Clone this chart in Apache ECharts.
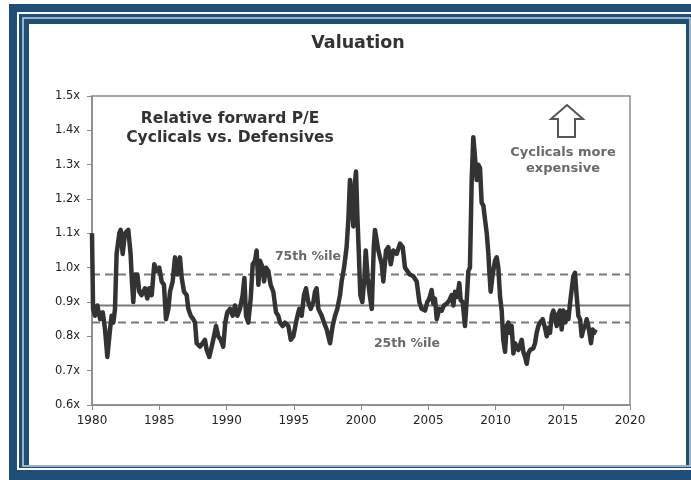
<!DOCTYPE html>
<html>
<head>
<meta charset="utf-8">
<script src="https://cdn.jsdelivr.net/npm/echarts@6/dist/echarts.min.js"></script>
<style>
html,body{margin:0;padding:0;background:#fff;}
#chart{width:691px;height:480px;}
</style>
</head>
<body>
<div id="chart"></div>
<script>
// Data
const years = [1980.0,1980.08,1980.22,1980.4,1980.6,1980.8,1980.97,1981.14,1981.34,1981.46,1981.59,1981.71,1981.83,1982.03,1982.13,1982.28,1982.45,1982.7,1982.87,1982.97,1983.07,1983.2,1983.37,1983.52,1983.69,1983.94,1984.11,1984.26,1984.44,1984.63,1984.81,1985.0,1985.18,1985.35,1985.5,1985.68,1985.8,1986.0,1986.17,1986.34,1986.54,1986.67,1986.84,1987.04,1987.16,1987.34,1987.53,1987.66,1987.78,1988.03,1988.23,1988.4,1988.53,1988.72,1988.9,1989.07,1989.22,1989.39,1989.57,1989.76,1989.91,1990.06,1990.26,1990.46,1990.63,1990.81,1991.0,1991.2,1991.33,1991.45,1991.62,1991.8,1991.95,1992.12,1992.24,1992.37,1992.49,1992.69,1992.79,1992.94,1993.11,1993.28,1993.48,1993.68,1993.85,1993.98,1994.18,1994.35,1994.6,1994.78,1994.97,1995.22,1995.41,1995.59,1995.76,1995.91,1996.08,1996.26,1996.46,1996.58,1996.7,1996.83,1997.08,1997.25,1997.45,1997.57,1997.7,1997.89,1998.07,1998.24,1998.44,1998.56,1998.74,1998.93,1999.06,1999.18,1999.31,1999.43,1999.55,1999.63,1999.73,1999.83,1999.95,2000.1,2000.25,2000.35,2000.5,2000.65,2000.8,2000.95,2001.04,2001.29,2001.54,2001.66,2001.86,2002.03,2002.21,2002.4,2002.65,2002.9,2003.1,2003.27,2003.45,2003.64,2003.89,2004.14,2004.34,2004.51,2004.76,2004.93,2005.08,2005.25,2005.38,2005.5,2005.63,2005.82,2006.0,2006.17,2006.37,2006.57,2006.74,2006.87,2006.99,2007.16,2007.31,2007.41,2007.56,2007.73,2007.86,2007.98,2008.1,2008.23,2008.35,2008.48,2008.6,2008.72,2008.85,2008.97,2009.1,2009.22,2009.35,2009.47,2009.54,2009.64,2009.79,2009.96,2010.09,2010.21,2010.34,2010.46,2010.58,2010.71,2010.83,2010.96,2011.08,2011.2,2011.33,2011.45,2011.58,2011.7,2011.82,2011.95,2012.07,2012.2,2012.32,2012.44,2012.57,2012.81,2012.94,2013.06,2013.19,2013.31,2013.51,2013.68,2013.81,2013.93,2014.05,2014.18,2014.3,2014.43,2014.55,2014.67,2014.8,2014.92,2015.04,2015.17,2015.29,2015.42,2015.54,2015.66,2015.79,2015.91,2016.04,2016.16,2016.29,2016.41,2016.53,2016.66,2016.78,2016.9,2017.03,2017.1,2017.23,2017.33,2017.45];
const relPE = [1.10,0.88,0.86,0.89,0.85,0.87,0.82,0.74,0.82,0.86,0.84,0.88,1.04,1.10,1.11,1.04,1.10,1.11,1.04,0.96,0.90,0.98,0.98,0.93,0.92,0.94,0.91,0.94,0.92,1.01,0.99,1.00,0.96,0.95,0.85,0.88,0.93,0.96,1.03,0.98,1.03,0.97,0.93,0.92,0.88,0.86,0.85,0.84,0.78,0.77,0.78,0.79,0.76,0.74,0.77,0.80,0.83,0.80,0.79,0.77,0.84,0.87,0.88,0.86,0.89,0.86,0.88,0.92,0.97,0.86,0.84,0.91,1.01,1.02,1.05,0.95,1.02,1.00,0.96,1.00,0.99,0.95,0.93,0.87,0.86,0.84,0.83,0.84,0.83,0.79,0.80,0.85,0.88,0.86,0.92,0.94,0.90,0.88,0.90,0.93,0.94,0.88,0.86,0.84,0.82,0.80,0.78,0.83,0.86,0.88,0.92,0.96,1.00,1.06,1.14,1.255,1.20,1.12,1.25,1.28,1.15,1.05,0.92,0.90,0.97,1.05,0.97,0.92,0.88,1.06,1.11,1.05,1.01,0.96,1.05,1.06,1.01,1.05,1.04,1.07,1.06,1.00,0.99,0.98,0.975,0.96,0.90,0.88,0.875,0.90,0.91,0.935,0.895,0.91,0.85,0.88,0.875,0.89,0.895,0.905,0.92,0.89,0.93,0.915,0.955,0.905,0.90,0.83,0.905,0.99,1.00,1.255,1.38,1.32,1.255,1.30,1.29,1.19,1.18,1.14,1.10,1.04,0.99,0.93,0.98,1.02,1.03,1.00,0.915,0.875,0.79,0.755,0.83,0.84,0.81,0.83,0.75,0.78,0.77,0.76,0.775,0.79,0.755,0.74,0.72,0.75,0.76,0.765,0.78,0.81,0.83,0.84,0.85,0.825,0.80,0.825,0.81,0.86,0.875,0.855,0.83,0.865,0.875,0.82,0.875,0.84,0.87,0.85,0.895,0.935,0.975,0.985,0.915,0.86,0.85,0.80,0.82,0.83,0.85,0.83,0.80,0.78,0.82,0.81,0.82];
const pct75 = 0.98;
const median = 0.89;
const pct25 = 0.84;
const xRange = [1980, 2020];

const seriesData = years.map((y,i)=>[y, relPE[i]]);
const hline = v => [[xRange[0], v],[xRange[1], v]];

const chart = echarts.init(document.getElementById('chart'), null, {renderer:'canvas'});
const FONT = '"DejaVu Sans", "Liberation Sans", Arial, sans-serif';
const blue = '#1f4e79';

chart.setOption({
  animation:false,
  backgroundColor:'#fff',
  grid:{left:92, right:61, top:96, bottom:75, show:true, borderColor:'#8a8a8a', borderWidth:1.5, containLabel:false},
  xAxis:{type:'value', min:1980, max:2020, interval:5,
    axisLine:{show:true, lineStyle:{color:'#8a8a8a', width:1.5}},
    axisTick:{show:true, length:5, lineStyle:{color:'#8a8a8a'}},
    splitLine:{show:false},
    axisLabel:{fontFamily:FONT, fontSize:12, color:'#222', margin:10, formatter:v=>String(v)}},
  yAxis:{type:'value', min:0.6, max:1.5, interval:0.1,
    axisLine:{show:true, lineStyle:{color:'#8a8a8a', width:1.5}},
    axisTick:{show:true, length:5, lineStyle:{color:'#8a8a8a'}},
    splitLine:{show:false},
    axisLabel:{fontFamily:FONT, fontSize:11.5, color:'#222', margin:12, formatter:v=>v.toFixed(1)+'x'}},
  series:[
    {type:'line', data:hline(pct75), symbol:'none', silent:true,
      lineStyle:{color:'#7a7a7a', width:2, type:[8,5]}, z:1},
    {type:'line', data:hline(median), symbol:'none', silent:true,
      lineStyle:{color:'#7a7a7a', width:2}, z:1},
    {type:'line', data:hline(pct25), symbol:'none', silent:true,
      lineStyle:{color:'#7a7a7a', width:2, type:[8,5]}, z:1},
    {type:'line', data:seriesData, symbol:'none', silent:true,
      lineStyle:{color:'#333333', width:4.5, join:'round'}, z:3}
  ],
  graphic:[
    {type:'rect', z:-10, silent:true, shape:{x:9,y:4,width:700,height:500}, style:{fill:blue}},
    {type:'rect', z:-9, silent:true, shape:{x:18,y:13,width:700,height:456}, style:{fill:'none', stroke:'#ffffff', lineWidth:2}},
    {type:'rect', z:-9, silent:true, shape:{x:23,y:18,width:667,height:448}, style:{fill:'none', stroke:'#c9d3dd', lineWidth:1.5}},
    {type:'rect', z:-8, silent:true, shape:{x:29,y:24,width:657,height:441}, style:{fill:'#ffffff'}},
    {type:'text', silent:true, style:{text:'Valuation', x:358, y:34, textAlign:'center', font:'bold 17.5px "DejaVu Sans", sans-serif', fill:'#333'}},
    {type:'text', silent:true, style:{text:'Relative forward P/E\nCyclicals vs. Defensives', x:230, y:109, textAlign:'center', font:'bold 15.5px "DejaVu Sans", sans-serif', fill:'#333', lineHeight:19}},
    {type:'text', silent:true, style:{text:'75th %ile', x:308, y:250, textAlign:'center', font:'bold 12.5px "DejaVu Sans", sans-serif', fill:'#6a6a6a'}},
    {type:'text', silent:true, style:{text:'25th %ile', x:407, y:337, textAlign:'center', font:'bold 12.5px "DejaVu Sans", sans-serif', fill:'#6a6a6a'}},
    {type:'text', silent:true, style:{text:'Cyclicals more\nexpensive', x:563, y:145, textAlign:'center', font:'bold 13px "DejaVu Sans", sans-serif', fill:'#6a6a6a', lineHeight:16}},
    {type:'polygon', silent:true, shape:{points:[[567,105],[583,119],[575,119],[575,137],[558,137],[558,119],[551,119]]}, style:{fill:'#fff', stroke:'#555', lineWidth:2}}
  ]
});
</script>
</body>
</html>
